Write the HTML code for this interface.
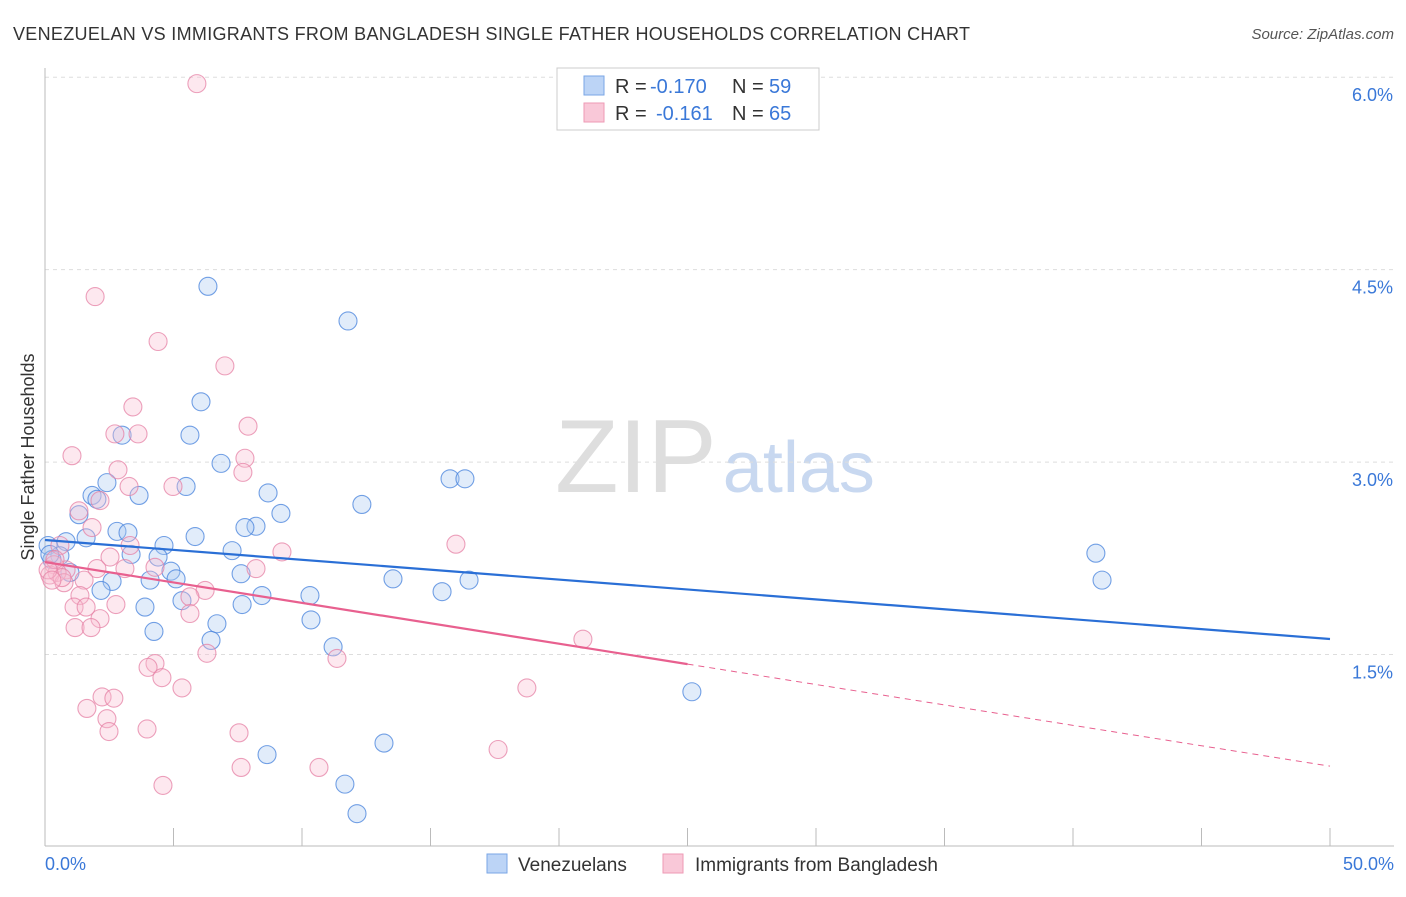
<!DOCTYPE html>
<html><head><meta charset="utf-8"><style>
body{margin:0;background:#fff;font-family:"Liberation Sans",sans-serif;}
svg text{font-family:"Liberation Sans",sans-serif;}
</style></head><body>
<svg id="chart" width="1406" height="892" viewBox="0 0 1406 892" xmlns="http://www.w3.org/2000/svg">
<text x="13" y="40" font-size="18" fill="#333" textLength="957" lengthAdjust="spacing">VENEZUELAN VS IMMIGRANTS FROM BANGLADESH SINGLE FATHER HOUSEHOLDS CORRELATION CHART</text>
<text x="1394" y="39" font-size="15" fill="#555" text-anchor="end" font-style="italic">Source: ZipAtlas.com</text>
<text x="555" y="492" font-size="104" fill="#dedede" font-family="Liberation Serif">ZIP<tspan fill="#c8d8f0" font-family="Liberation Sans" font-size="72" dx="6">atlas</tspan></text>
<g id="grid"></g>
<line x1="45" y1="68" x2="45" y2="846" stroke="#bbb"/>
<line x1="45" y1="846" x2="1394" y2="846" stroke="#bbb"/>
<g id="xticks"></g>
<text transform="translate(34,457) rotate(-90)" font-size="18" fill="#333" text-anchor="middle">Single Father Households</text>
<g id="points"></g>
<g id="trends"></g>
<g>
<rect x="557" y="68" width="262" height="62" fill="#fff" stroke="#ccc"/>
<rect x="584" y="76" width="20" height="19" fill="#bcd4f6" stroke="#7aa6e6"/>
<text x="615" y="93" font-size="20" fill="#333" xml:space="preserve">R = <tspan fill="#3a78d8" x="650">-0.170</tspan><tspan x="732">N = </tspan><tspan fill="#3a78d8" x="769">59</tspan></text>
<rect x="584" y="103" width="20" height="19" fill="#f9c8d8" stroke="#ee9ab5"/>
<text x="615" y="120" font-size="20" fill="#333" xml:space="preserve">R = <tspan fill="#3a78d8" x="656">-0.161</tspan><tspan x="732">N = </tspan><tspan fill="#3a78d8" x="769">65</tspan></text>
</g>
<g>
<rect x="487" y="854" width="20" height="19" fill="#bcd4f6" stroke="#7aa6e6"/>
<text x="518" y="871" font-size="19" fill="#333">Venezuelans</text>
<rect x="663" y="854" width="20" height="19" fill="#f9c8d8" stroke="#ee9ab5"/>
<text x="695" y="871" font-size="19" fill="#333">Immigrants from Bangladesh</text>
</g>
<text x="45" y="870" font-size="18" fill="#3a78d8">0.0%</text>
<text x="1394" y="870" font-size="18" fill="#3a78d8" text-anchor="end">50.0%</text>
</svg>
<script>
const yTicks=[1.5,3.0,4.5,6.0];
const yTickLabels=["1.5%","3.0%","4.5%","6.0%"];
const xTicks=[0,5,10,15,20,25,30,35,40,45,50];
const venX=[6.34,11.79,6.07,3.00,5.64,6.85,15.76,16.34,2.41,5.49,1.83,2.02,3.66,8.68,1.32,12.33,9.18,8.21,7.78,2.80,3.23,1.60,5.84,0.82,0.12,7.28,4.63,3.35,0.58,4.40,40.89,0.27,0.97,4.90,7.63,13.54,16.50,41.13,4.09,2.61,5.10,2.18,8.44,10.31,15.45,5.33,7.67,3.89,6.69,10.35,4.24,6.46,11.21,25.17,13.19,8.64,11.67,12.14,0.19];
const venY=[4.37,4.10,3.47,3.21,3.21,2.99,2.87,2.87,2.84,2.81,2.74,2.71,2.74,2.76,2.59,2.67,2.60,2.50,2.49,2.46,2.45,2.41,2.42,2.38,2.35,2.31,2.35,2.28,2.27,2.26,2.29,2.24,2.14,2.15,2.13,2.09,2.08,2.08,2.08,2.07,2.09,2.00,1.96,1.96,1.99,1.92,1.89,1.87,1.74,1.77,1.68,1.61,1.56,1.21,0.81,0.72,0.49,0.26,2.28];
const banX=[5.91,1.95,4.40,7.00,3.42,2.72,3.62,7.90,1.05,7.78,2.84,7.70,3.27,4.98,2.14,1.32,1.83,3.31,15.99,9.22,0.58,2.53,8.21,3.11,2.02,4.28,0.35,0.82,0.47,0.19,1.52,0.74,6.23,1.36,5.64,1.13,1.60,2.76,5.64,2.14,1.17,1.79,20.93,6.30,11.36,4.28,4.01,4.55,5.33,18.75,2.22,2.68,1.63,2.41,2.49,3.97,7.55,17.63,7.63,10.66,4.59,0.39,0.66,0.12,0.27];
const banY=[5.95,4.29,3.94,3.75,3.43,3.22,3.22,3.28,3.05,3.03,2.94,2.92,2.81,2.81,2.70,2.62,2.49,2.35,2.36,2.30,2.35,2.26,2.17,2.17,2.17,2.18,2.20,2.16,2.14,2.12,2.08,2.06,2.00,1.96,1.95,1.87,1.87,1.89,1.82,1.78,1.71,1.71,1.62,1.51,1.47,1.43,1.40,1.32,1.24,1.24,1.17,1.16,1.08,1.00,0.90,0.92,0.89,0.76,0.62,0.62,0.48,2.24,2.10,2.16,2.08];
const venTrend=[2.393,1.621];
const banTrend=[2.221,0.63];
const banSolidEnd=25;
const NS="http://www.w3.org/2000/svg";
const sx=v=>45+v/50*1285;
const sy=v=>847-v*128.3;
function mk(tag,attrs,parent){const e=document.createElementNS(NS,tag);for(const k in attrs)e.setAttribute(k,attrs[k]);parent.appendChild(e);return e;}
const grid=document.getElementById('grid');
yTicks.forEach((t,i)=>{
 const l=mk('line',{x1:45,x2:1394,y1:sy(t),y2:sy(t),stroke:'#ddd','stroke-dasharray':'4,4'},grid);
 
 
 const tx=mk('text',{x:1393,y:sy(t)+24,'font-size':18,fill:'#3a78d8','text-anchor':'end'},grid);
 tx.textContent=yTickLabels[i];
 
 
});
const xt=document.getElementById('xticks');
xTicks.forEach(t=>{
 const l=mk('line',{x1:sx(t),x2:sx(t),y1:828,y2:846,stroke:'#bbb'},xt);
 
 
});
const pts=document.getElementById('points');
venX.forEach((x,i)=>{
 const c=mk('circle',{cx:sx(x),cy:sy(venY[i]),r:9,fill:'rgba(170,200,240,0.35)',stroke:'rgba(70,130,220,0.75)','stroke-width':1.1},pts);
 
 
});
banX.forEach((x,i)=>{
 const c=mk('circle',{cx:sx(x),cy:sy(banY[i]),r:9,fill:'rgba(248,190,210,0.35)',stroke:'rgba(230,130,165,0.75)','stroke-width':1.1},pts);
 
 
});
const tr=document.getElementById('trends');
const vl=mk('line',{x1:sx(0),y1:sy(venTrend[0]),x2:sx(50),y2:sy(venTrend[1]),stroke:'#2a6fd6','stroke-width':2.2},tr);


const bm=banTrend[0]+(banTrend[1]-banTrend[0])*banSolidEnd/50;
const bl=mk('line',{x1:sx(0),y1:sy(banTrend[0]),x2:sx(banSolidEnd),y2:sy(bm),stroke:'#e8608f','stroke-width':2.2},tr);


const bd=mk('line',{x1:sx(banSolidEnd),y1:sy(bm),x2:sx(50),y2:sy(banTrend[1]),stroke:'#e8608f','stroke-width':1,'stroke-dasharray':'6,5'},tr);


</script>
</body></html>
